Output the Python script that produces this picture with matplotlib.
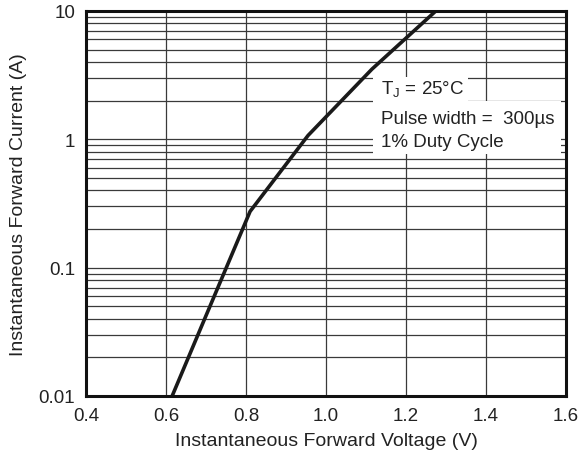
import numpy as np
import matplotlib.pyplot as plt
from matplotlib.patches import Rectangle
from matplotlib.ticker import FixedLocator, NullFormatter

plt.rcParams['font.family'] = ['Liberation Sans', 'DejaVu Sans']

# forward characteristic
voltage = [0.615, 0.6975, 0.81, 0.955, 1.115, 1.275]
current = [0.01, 0.0407, 0.274, 1.07, 3.52, 10.0]

x_ticks = [0.4, 0.6, 0.8, 1.0, 1.2, 1.4, 1.6]
x_labels = ['0.4', '0.6', '0.8', '1.0', '1.2', '1.4', '1.6']
y_ticks = [0.01, 0.1, 1, 10]
y_labels = ['0.01', '0.1', '1', '10']

fig, ax = plt.subplots(figsize=(5.79, 4.60), dpi=100)
fig.subplots_adjust(left=0.149, right=0.977, top=0.974, bottom=0.137)

ax.set_yscale('log')
ax.set_xlim(0.4, 1.6)
ax.set_ylim(0.01, 10)

minor = [m * 10.0 ** e for e in range(-2, 1) for m in range(2, 10)]
ax.yaxis.set_minor_locator(FixedLocator(minor))
ax.yaxis.set_minor_formatter(NullFormatter())
ax.set_yticks(y_ticks)
ax.set_yticklabels(y_labels)
ax.set_xticks(x_ticks)
ax.set_xticklabels(x_labels)

ax.grid(True, which='both', axis='y', color='#3a3a3a', lw=0.9)
ax.grid(True, which='major', axis='x', color='#3a3a3a', lw=0.9)
ax.tick_params(which='both', length=0, labelsize=13.5, colors='#222222', pad=8)

for s in ax.spines.values():
    s.set_linewidth(2.2)
    s.set_color('#111111')
    s.set_zorder(5)

ax.plot(voltage, current, color='#1a1a1a', lw=2.6, solid_joinstyle='round', zorder=3)

ax.set_xlabel('Instantaneous Forward Voltage (V)', fontsize=14, color='#222222', labelpad=6)
ax.set_ylabel('Instantaneous Forward Current (A)', fontsize=14, color='#222222', labelpad=8)

# white patches behind the condition notes
ax.add_patch(Rectangle((0.598, 0.766), 0.198, 0.062, transform=ax.transAxes,
                       facecolor='white', edgecolor='none', zorder=4))
ax.add_patch(Rectangle((0.598, 0.628), 0.392, 0.139, transform=ax.transAxes,
                       facecolor='white', edgecolor='none', zorder=4))

tc = '#222222'
ax.text(0.615, 0.797, r'T$_\mathregular{J}$ = 25°C', transform=ax.transAxes,
        fontsize=13.5, color=tc, va='center', zorder=6)
ax.text(0.615, 0.721, 'Pulse width =  300µs', transform=ax.transAxes,
        fontsize=13.5, color=tc, va='center', zorder=6)
ax.text(0.615, 0.661, '1% Duty Cycle', transform=ax.transAxes,
        fontsize=13.5, color=tc, va='center', zorder=6)

fig.savefig('out.png', dpi=100)
